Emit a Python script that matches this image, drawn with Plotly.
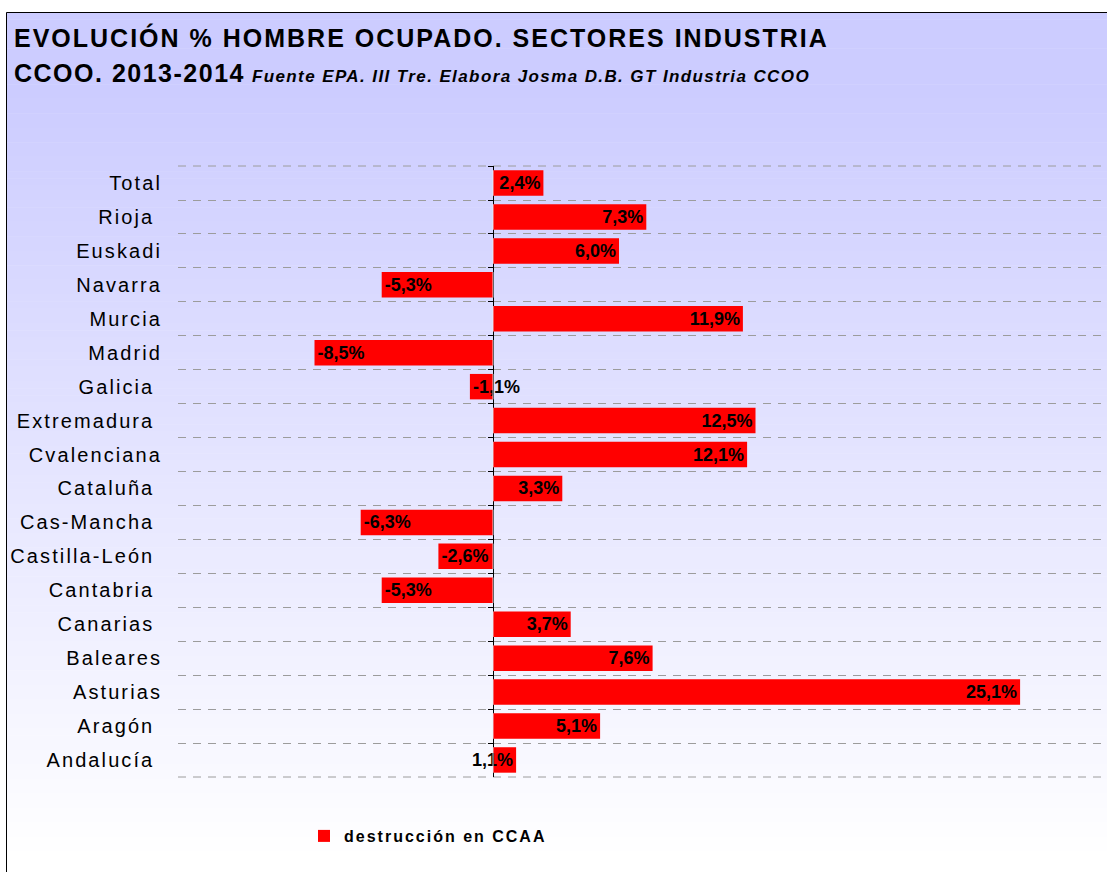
import plotly.graph_objects as go

# ---------------- data ----------------
categories = ["Total", "Rioja", "Euskadi", "Navarra", "Murcia", "Madrid", "Galicia",
              "Extremadura", "Cvalenciana", "Cataluña", "Cas-Mancha", "Castilla-León",
              "Cantabria", "Canarias", "Baleares", "Asturias", "Aragón", "Andalucía"]
values = [2.4, 7.3, 6.0, -5.3, 11.9, -8.5, -1.1, 12.5, 12.1, 3.3, -6.3, -2.6,
          -5.3, 3.7, 7.6, 25.1, 5.1, 1.1]
series_name = "destrucción en CCAA"
title_line1 = "EVOLUCIÓN % HOMBRE OCUPADO. SECTORES INDUSTRIA"
title_line2 = "CCOO. 2013-2014"
subtitle = "Fuente EPA. III Tre. Elabora Josma D.B. GT Industria CCOO"
# labels written with a trailing space in the source
padded = {"Rioja", "Galicia", "Extremadura", "Cataluña", "Cas-Mancha", "Castilla-León",
          "Cantabria", "Canarias", "Aragón", "Andalucía"}

labels = [f"{v:.1f}".replace(".", ",") + "%" for v in values]

# ---------------- geometry ----------------
W, H = 1107, 872
PL, PR = 178, 1107
PT, PB = 166, 777
x_min = -15.0
px_per_unit = 21.0
x_max = x_min + (PR - PL) / px_per_unit
n = len(categories)
eps = 0.002


def pxx(x):
    return (x - PL) / (PR - PL)


def pxy(y):
    return (PB - y) / (PB - PT)


FONT = "Liberation Sans, Arial, sans-serif"
GRID = "#9C9C9C"
DASH = "8px,7px"

ticktext = [
    f"<span style='letter-spacing:2.1px'>{c}{chr(160) if c in padded else ''}</span>"
    for c in categories
]

fig = go.Figure()
fig.add_trace(go.Bar(
    x=values, y=categories, orientation="h",
    name=f"<span style='letter-spacing:2px'>{series_name}</span>",
    marker=dict(color="#FF0000", line=dict(width=0)),
    text=labels, textposition="inside", insidetextanchor="end",
    textangle=0, constraintext="none", cliponaxis=False,
    textfont=dict(family=FONT, size=18, color="black", weight="bold"),
    hoverinfo="skip",
))
# invisible helper trace for the tick marks on the zero axis
fig.add_trace(go.Bar(
    x=[0] * n, y=categories, orientation="h", yaxis="y2",
    showlegend=False, hoverinfo="skip", marker=dict(color="rgba(0,0,0,0)"),
))

shapes = []
N = 120
top, bot = 12, 880
for i in range(N):
    y0 = top + i * (bot - top) / N
    y1 = top + (i + 1) * (bot - top) / N
    yc = (y0 + y1) / 2
    t = min(max((yc - 90) / (860 - 90), 0), 1)
    c = round(204 + 51 * t)
    shapes.append(dict(type="rect", xref="paper", yref="paper", layer="below",
                       x0=pxx(6), x1=pxx(1120), y0=pxy(y0), y1=pxy(y1 + 0.5),
                       fillcolor=f"rgb({c},{c},255)", line=dict(width=0)))
# outer edges of the category grid
for yy in (0, 1):
    shapes.append(dict(type="line", xref="paper", yref="paper", layer="below",
                       x0=0, x1=1, y0=yy, y1=yy,
                       line=dict(color=GRID, width=1, dash=DASH)))
shapes.append(dict(type="rect", xref="paper", yref="paper", layer="above",
                   x0=pxx(6.5), x1=pxx(1130), y0=pxy(12.5), y1=pxy(900),
                   fillcolor="rgba(0,0,0,0)", line=dict(color="black", width=1)))

annotations = [
    dict(xref="paper", yref="paper", x=pxx(12), y=pxy(37), xanchor="left", yanchor="middle",
         showarrow=False,
         text=f"<b><span style='letter-spacing:2.0px'>{title_line1}</span></b>",
         font=dict(family=FONT, size=25, color="black")),
    dict(xref="paper", yref="paper", x=pxx(12), y=pxy(73), xanchor="left", yanchor="middle",
         showarrow=False,
         text=(f"<b><span style='letter-spacing:1.5px'>{title_line2}</span></b> "
               f"<b><i><span style='font-size:17px;letter-spacing:1.4px'>{subtitle}</span></i></b>"),
         font=dict(family=FONT, size=25, color="black")),
]

fig.update_layout(
    width=W, height=H,
    margin=dict(l=PL, r=W - PR, t=PT, b=H - PB, pad=0),
    paper_bgcolor="white", plot_bgcolor="rgba(0,0,0,0)",
    font=dict(family=FONT, color="black"),
    bargap=0.25,
    shapes=shapes, annotations=annotations,
    showlegend=True,
    legend=dict(orientation="h", x=pxx(304), y=pxy(836), xanchor="left", yanchor="middle",
                bgcolor="rgba(0,0,0,0)",
                font=dict(family=FONT, size=16, color="black", weight="bold")),
    xaxis=dict(range=[x_min, x_max], showgrid=False, showticklabels=False, ticks="",
               zeroline=True, zerolinecolor="black", zerolinewidth=1, fixedrange=True),
    yaxis=dict(type="category", categoryorder="array", categoryarray=categories,
               range=[n - 0.5 + eps, -0.5 - eps], tickson="boundaries",
               tickvals=categories, ticktext=ticktext,
               showgrid=True, gridcolor=GRID, gridwidth=1, griddash=DASH,
               ticks="", ticklabelstandoff=15, showline=False, zeroline=False,
               tickfont=dict(family=FONT, size=20, color="black")),
    yaxis2=dict(type="category", categoryorder="array", categoryarray=categories,
                range=[n - 0.5 + eps, -0.5 - eps], overlaying="y", anchor="free",
                position=pxx(493), side="left", tickson="boundaries",
                ticks="outside", ticklen=5, tickcolor="black", tickwidth=1,
                showticklabels=False, showgrid=False, showline=False, zeroline=False),
)

fig.write_html("out.html", config={"displayModeBar": False},
               post_script="document.body.style.margin='0';")
